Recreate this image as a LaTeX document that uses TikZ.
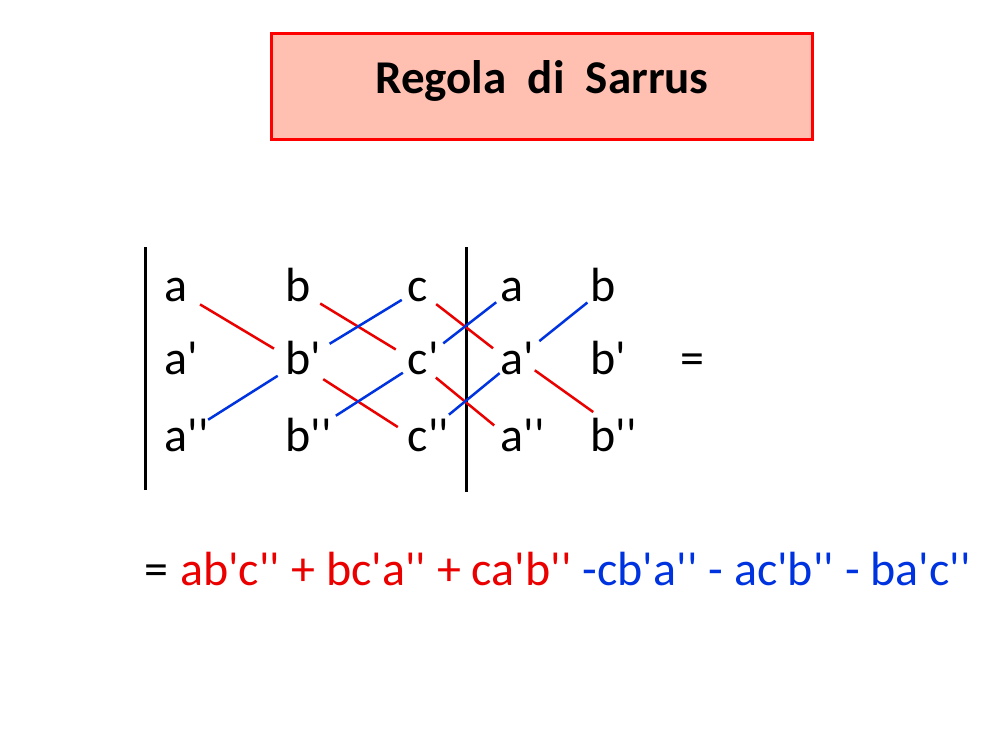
\documentclass[tikz,border=0pt]{standalone}
\usepackage{fontspec}
\setmainfont{Carlito}[Ligatures=TeXOff]
\usepackage{xcolor}
\definecolor{sarrusred}{RGB}{235,0,0}
\definecolor{sarrusblue}{RGB}{0,51,224}
\definecolor{titlepink}{RGB}{255,192,178}

\begin{document}
\begin{tikzpicture}[x=1pt,y=-1pt,
    entry/.style={anchor=base,inner sep=0pt,text height=22pt,text depth=0pt,font=\fontsize{48}{54}\selectfont},
    redline/.style={sarrusred,line width=2.5pt},
    blueline/.style={sarrusblue,line width=2.5pt}]
            \useasboundingbox (0,0) rectangle (1000,750);

            % Title
            \node[draw=red,line width=3pt,fill=titlepink,minimum width=541pt,minimum height=106pt,
                  text height=30pt,text depth=16pt,font=\fontsize{47}{52}\selectfont\bfseries]
                  (title) at (542,86) {Regola\ \ di\ \ Sarrus};

            % Bars
            \draw[line width=3pt] (145,247) -- (145,490);
            \draw[line width=3pt] (466,247) -- (466,492);

            % Entries
            \foreach \n/\x/\t in {a1/176/a, b1/298/b, c1/418/c, ra1/512/a, rb1/603/b}
                \node[entry] (\n) at (\x,301) {\t};
            \foreach \n/\x/\t in {a2/176/a, b2/298/b, c2/418/c, ra2/512/a, rb2/603/b}
                \node[entry] (\n) at (\x,374) {\t\rlap{'}};
            \foreach \n/\x/\t in {a3/176/a, b3/298/b, c3/418/c, ra3/512/a, rb3/603/b}
                \node[entry] (\n) at (\x,451) {\t\rlap{''}};
            \node[entry] (eq1) at (692,374) {=};

            % Main diagonals
            \draw[redline,shorten <=28pt,shorten >=28pt] (a1.center) -- (b2.center);
            \draw[redline,shorten <=26pt,shorten >=26pt] (b1.center) -- (c2.center);
            \draw[redline,shorten <=23pt,shorten >=24pt] (c1.center) -- (ra2.center);
            \draw[redline,shorten <=30pt,shorten >=24pt] (b2.center) -- (c3.center);
            \draw[redline,shorten <=23pt,shorten >=23pt] (c2.center) -- (ra3.center);
            \draw[redline,shorten <=28pt,shorten >=12pt] ([yshift=9pt]ra2.center) -- ([yshift=21pt]rb3.center);

            % Secondary diagonals
            \draw[blueline,shorten <=38pt,shorten >=24pt] (a3.center) -- (b2.center);
            \draw[blueline,shorten <=37pt,shorten >=19pt] (b2.center) -- (c1.center);
            \draw[blueline,shorten <=45pt,shorten >=18pt] (b3.center) -- (c2.center);
            \draw[blueline,shorten <=32pt,shorten >=20pt] (c2.center) -- (ra1.center);
            \draw[blueline,shorten <=40pt,shorten >=16pt] (c3.center) -- (ra2.center);
            \draw[blueline,shorten <=35pt,shorten >=20pt] (ra2.center) -- (rb1.center);

            % Result
            \node[anchor=base west,inner sep=0pt,font=\fontsize{48}{54}\selectfont] (result) at (144,585)
                {=\hspace{12pt}\textcolor{sarrusred}{ab'c'' + bc'a'' + ca'b''} \textcolor{sarrusblue}{-cb'a'' - ac'b'' - ba'c''}};
        \end{tikzpicture}
\end{document}
